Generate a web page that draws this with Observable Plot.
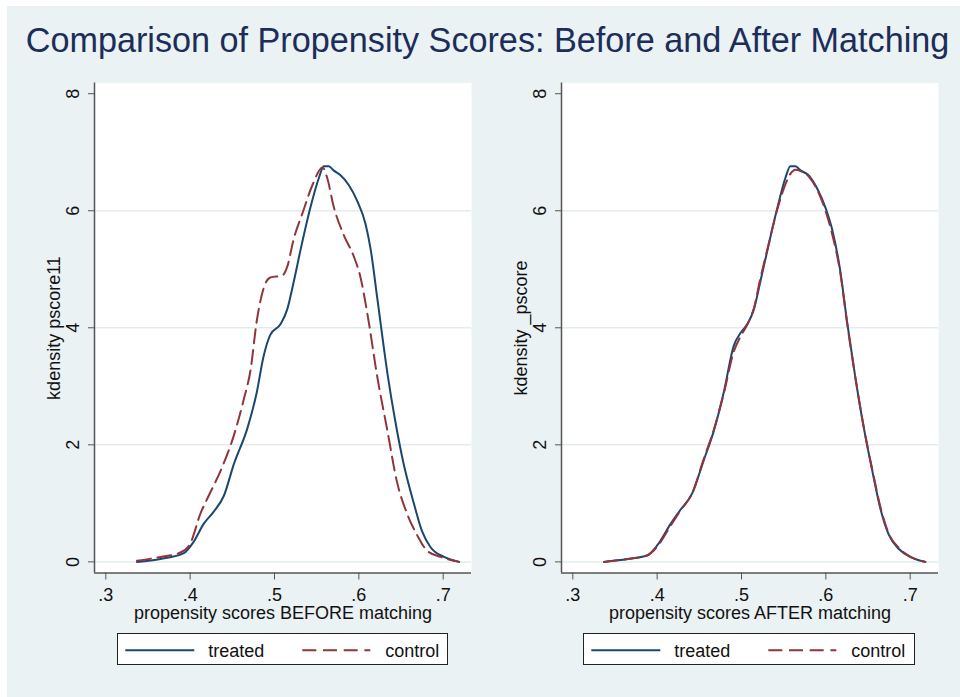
<!DOCTYPE html>
<html>
<head>
<meta charset="utf-8">
<script src="https://cdn.jsdelivr.net/npm/d3@7"></script>
<script src="https://cdn.jsdelivr.net/npm/@observablehq/plot@0.6"></script>
<style>
  html, body { margin: 0; padding: 0; background: #ffffff; }
  #page { position: relative; width: 960px; height: 697px; overflow: hidden; background: #ffffff;
          font-family: "Liberation Sans", Arial, Helvetica, sans-serif; }
  #bg { position: absolute; left: 7px; top: 6px; width: 953px; height: 691px; background: #eaf2f3; }
  #title { position: absolute; left: 11px; width: 953px; top: 23px; text-align: center;
           font-size: 34.2px; line-height: 34px; color: #1c2d5a; white-space: nowrap; }
  .panel { position: absolute; top: 60px; }
  .legend { position: absolute; top: 632.7px; width: 331.6px; height: 32.3px; background: #ffffff;
            border: 1px solid #222; box-sizing: border-box; }
  .legend svg { position: absolute; left: -1px; top: -1px; overflow: visible; }
</style>
</head>
<body>
<div id="page">
  <div id="bg"></div>
  <div id="title"></div>
  <div id="left" class="panel" style="left:0px"></div>
  <div id="right" class="panel" style="left:467px"></div>
  <div id="legL" class="legend" style="left:116.7px"></div>
  <div id="legR" class="legend" style="left:583.4px"></div>
</div>
<script>
// ---------- data ----------
const titleText = "Comparison of Propensity Scores: Before and After Matching";
const seriesNames = ["treated", "control"];
const xTicks = [0.3, 0.4, 0.5, 0.6, 0.7];
const yTicks = [0, 2, 4, 6, 8];
const yGrid = [0, 2, 4, 6];

const leftXLabel = "propensity scores BEFORE matching";
const leftYLabel = "kdensity pscore11";
const rightXLabel = "propensity scores AFTER matching";
const rightYLabel = "kdensity _pscore";

// kernel density estimates, [score, density]
const treatedBefore = [
  [0.337, 0.00], [0.365, 0.05], [0.3925, 0.15], [0.404, 0.34], [0.416, 0.65], [0.428, 0.86],
  [0.440, 1.13], [0.452, 1.68], [0.468, 2.29], [0.479, 2.90], [0.487, 3.51], [0.495, 3.88],
  [0.507, 4.06], [0.515, 4.31], [0.523, 4.80], [0.531, 5.34], [0.543, 6.08], [0.5526, 6.56],
  [0.5585, 6.76], [0.5644, 6.76], [0.570, 6.69], [0.578, 6.61], [0.588, 6.44], [0.598, 6.17],
  [0.608, 5.77], [0.614, 5.34], [0.622, 4.49], [0.634, 3.21], [0.643, 2.42], [0.653, 1.68],
  [0.665, 1.01], [0.675, 0.52], [0.685, 0.25], [0.701, 0.085], [0.719, 0.00]
];
const controlBefore = [
  [0.337, 0.02], [0.365, 0.085], [0.3885, 0.16], [0.400, 0.31], [0.4123, 0.83], [0.422, 1.13],
  [0.438, 1.62], [0.452, 2.17], [0.4636, 2.78], [0.4715, 3.27], [0.479, 4.12], [0.487, 4.67],
  [0.495, 4.86], [0.509, 4.89], [0.515, 5.04], [0.523, 5.53], [0.533, 5.95], [0.545, 6.44],
  [0.557, 6.74], [0.5625, 6.56], [0.570, 6.08], [0.582, 5.59], [0.594, 5.22], [0.602, 4.86],
  [0.610, 4.25], [0.622, 3.15], [0.634, 2.23], [0.645, 1.38], [0.657, 0.83], [0.669, 0.46],
  [0.681, 0.19], [0.697, 0.085], [0.719, 0.00]
];
const treatedAfter = [
  [0.337, 0.00], [0.365, 0.05], [0.388, 0.11], [0.400, 0.28], [0.416, 0.65], [0.4277, 0.89],
  [0.4415, 1.17], [0.4553, 1.74], [0.467, 2.23], [0.479, 2.90], [0.491, 3.70], [0.4988, 3.91],
  [0.5067, 4.06], [0.5146, 4.31], [0.5225, 4.80], [0.530, 5.28], [0.542, 6.02], [0.552, 6.56],
  [0.558, 6.76], [0.564, 6.76], [0.570, 6.69], [0.580, 6.60], [0.5897, 6.38], [0.5996, 6.05],
  [0.6075, 5.68], [0.617, 4.98], [0.625, 4.12], [0.635, 3.15], [0.645, 2.29], [0.655, 1.56],
  [0.665, 0.89], [0.6747, 0.46], [0.6866, 0.22], [0.700, 0.085], [0.718, 0.00]
];
const controlAfter = [
  [0.337, 0.00], [0.365, 0.05], [0.388, 0.11], [0.400, 0.26], [0.416, 0.62], [0.4277, 0.88],
  [0.4415, 1.17], [0.4553, 1.76], [0.467, 2.25], [0.479, 2.88], [0.491, 3.60], [0.4988, 3.85],
  [0.5067, 4.05], [0.5146, 4.33], [0.5225, 4.85], [0.530, 5.30], [0.542, 6.00], [0.552, 6.45],
  [0.558, 6.63], [0.564, 6.70], [0.570, 6.68], [0.580, 6.58], [0.5897, 6.36], [0.5996, 6.00],
  [0.6075, 5.60], [0.617, 4.95], [0.625, 4.10], [0.635, 3.15], [0.645, 2.30], [0.655, 1.58],
  [0.665, 0.92], [0.6747, 0.48], [0.6866, 0.24], [0.700, 0.09], [0.718, 0.00]
];

// ---------- styling ----------
const NAVY = "#1a476f";
const MAROON = "#90353b";
const DASH = "14,6.7";
const AXIS = "#555555";
const FONT = "'Liberation Sans', Arial, Helvetica, sans-serif";
const X_DOMAIN = [0.2866, 0.73355];
const Y_DOMAIN = [-0.19, 8.183];

const toObj = arr => arr.map(([x, y]) => ({x, y}));
const fmtX = d => d3.format(".1f")(d).replace(/^0/, "");

function panel(treated, control, xLabel, yLabel) {
  return Plot.plot({
    width: 480,
    height: 580,
    marginLeft: 94,
    marginRight: 9,
    marginTop: 22.5,
    marginBottom: 67.5,
    style: {background: "transparent", fontFamily: FONT, fontSize: "18px", color: "#111", overflow: "visible"},
    x: {domain: X_DOMAIN, label: null},
    y: {domain: Y_DOMAIN, label: null},
    marks: [
      Plot.frame({fill: "white", stroke: "none"}),
      Plot.ruleY(yGrid, {stroke: "#e4eced", strokeWidth: 1.5}),
      Plot.line(toObj(treated), {x: "x", y: "y", stroke: NAVY, strokeWidth: 2, curve: "monotone-x"}),
      Plot.line(toObj(control), {x: "x", y: "y", stroke: MAROON, strokeWidth: 2, strokeDasharray: DASH, curve: "monotone-x"}),
      Plot.ruleX([X_DOMAIN[0]], {stroke: AXIS, strokeWidth: 1.5}),
      Plot.ruleY([Y_DOMAIN[0]], {stroke: AXIS, strokeWidth: 1.5}),
      Plot.axisX(xTicks, {tickSize: 7, tickPadding: 8, tickFormat: fmtX, stroke: AXIS, label: null}),
      Plot.axisY(yTicks, {tickSize: 6, tickFormat: () => "", stroke: AXIS, label: null}),
      Plot.text(yTicks, {y: d => d, frameAnchor: "left", dx: -21, rotate: -90, text: d => String(d),
                         textAnchor: "middle", lineAnchor: "middle", fill: "#111"}),
      Plot.text([xLabel], {frameAnchor: "bottom", dy: 40.5, text: d => d, textAnchor: "middle", lineAnchor: "middle", fill: "#111"}),
      Plot.text([yLabel], {frameAnchor: "left", dx: -40, rotate: -90, text: d => d, textAnchor: "middle", lineAnchor: "middle", fill: "#111"})
    ]
  });
}

document.getElementById("title").textContent = titleText;
document.getElementById("left").appendChild(panel(treatedBefore, controlBefore, leftXLabel, leftYLabel));
document.getElementById("right").appendChild(panel(treatedAfter, controlAfter, rightXLabel, rightYLabel));

function legend(el) {
  const ns = "http://www.w3.org/2000/svg";
  const svg = document.createElementNS(ns, "svg");
  svg.setAttribute("width", 332);
  svg.setAttribute("height", 33);
  const items = [
    {name: seriesNames[0], color: NAVY, dash: null, x1: 8.3, x2: 77.3, tx: 91.3},
    {name: seriesNames[1], color: MAROON, dash: DASH, x1: 185.3, x2: 253.3, tx: 268.3}
  ];
  for (const it of items) {
    const l = document.createElementNS(ns, "line");
    l.setAttribute("x1", it.x1); l.setAttribute("x2", it.x2);
    l.setAttribute("y1", 17.3); l.setAttribute("y2", 17.3);
    l.setAttribute("stroke", it.color); l.setAttribute("stroke-width", 2);
    if (it.dash) l.setAttribute("stroke-dasharray", it.dash);
    svg.appendChild(l);
    const t = document.createElementNS(ns, "text");
    t.setAttribute("x", it.tx); t.setAttribute("y", 23.7);
    t.setAttribute("font-family", FONT); t.setAttribute("font-size", 18);
    t.setAttribute("fill", "#111");
    t.textContent = it.name;
    svg.appendChild(t);
  }
  el.appendChild(svg);
}
legend(document.getElementById("legL"));
legend(document.getElementById("legR"));
</script>
</body>
</html>
